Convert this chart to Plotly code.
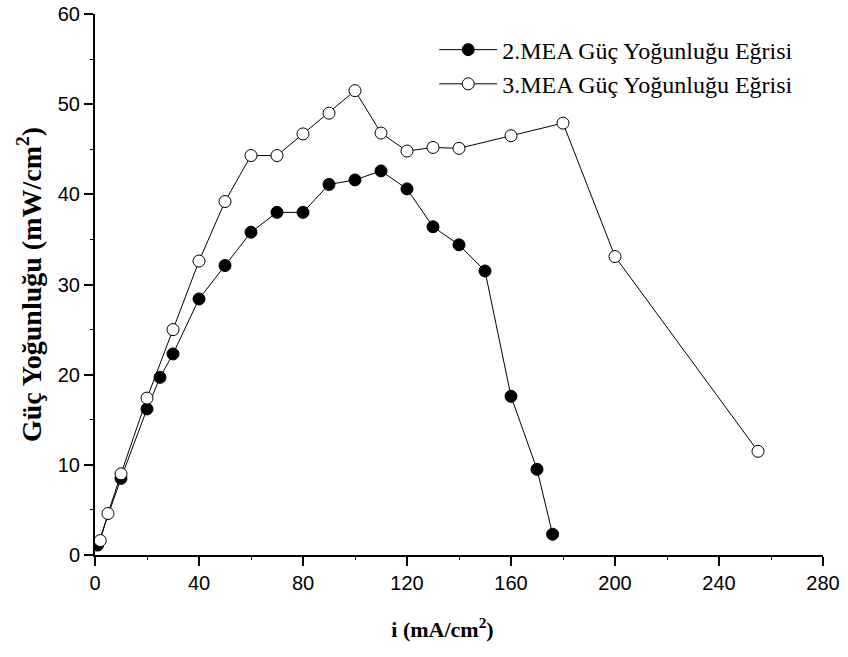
import plotly.graph_objects as go

# Series 2.MEA (filled markers)
x_mea2 = [1, 10, 20, 25, 30, 40, 50, 60, 70, 80, 90, 100, 110, 120, 130, 140, 150, 160, 170, 176]
y_mea2 = [1.1, 8.5, 16.2, 19.7, 22.3, 28.4, 32.1, 35.8, 38.0, 38.0, 41.1, 41.6, 42.6, 40.6, 36.4, 34.4, 31.5, 17.6, 9.5, 2.3]

# Series 3.MEA (open markers)
x_mea3 = [2, 5, 10, 20, 30, 40, 50, 60, 70, 80, 90, 100, 110, 120, 130, 140, 160, 180, 200, 255]
y_mea3 = [1.6, 4.6, 9.0, 17.4, 25.0, 32.6, 39.2, 44.3, 44.3, 46.7, 49.0, 51.5, 46.8, 44.8, 45.2, 45.1, 46.5, 47.9, 33.1, 11.5]

name2 = "2.MEA Güç Yoğunluğu Eğrisi"
name3 = "3.MEA Güç Yoğunluğu Eğrisi"

x_ticks = [0, 40, 80, 120, 160, 200, 240, 280]
y_ticks = [0, 10, 20, 30, 40, 50, 60]

fig = go.Figure()
fig.add_trace(go.Scatter(
    x=x_mea2, y=y_mea2, name=name2, mode="lines+markers",
    line=dict(color="black", width=1),
    marker=dict(symbol="circle", size=12, color="black", line=dict(color="black", width=1)),
))
fig.add_trace(go.Scatter(
    x=x_mea3, y=y_mea3, name=name3, mode="lines+markers",
    line=dict(color="black", width=1),
    marker=dict(symbol="circle", size=12, color="white", line=dict(color="black", width=1)),
))

axis_common = dict(
    showgrid=False, zeroline=False, showline=True, linecolor="black", linewidth=2,
    ticks="outside", ticklen=9, tickwidth=2, tickcolor="black",
    tickfont=dict(family="Liberation Sans, Arial", size=20, color="black"),
    automargin=False, ticklabeloverflow="allow",
)

fig.update_layout(
    width=848, height=657,
    margin=dict(l=95, r=25, t=14, b=102),
    paper_bgcolor="white", plot_bgcolor="white",
    showlegend=True,
    legend=dict(
        x=0.466, y=0.975, xanchor="left", yanchor="top",
        font=dict(family="Liberation Serif, Times New Roman", size=24, color="black"),
        bgcolor="rgba(0,0,0,0)", itemwidth=58, tracegroupgap=0,
    ),
    xaxis=dict(
        range=[0, 280], tickvals=x_ticks,
        minor=dict(dtick=20, ticks="outside", ticklen=3, tickcolor="black", tickwidth=1),
        title=dict(text="<b>i (mA/cm<sup>2</sup>)</b>" + "&nbsp;" * 6,
                   font=dict(family="Liberation Serif, Times New Roman", size=22, color="black"),
                   standoff=29),
        **axis_common,
    ),
    yaxis=dict(
        range=[0, 60], tickvals=y_ticks,
        minor=dict(dtick=5, ticks="outside", ticklen=3, tickcolor="black", tickwidth=1),
        title=dict(text="<b>Güç Yoğunluğu (mW/cm<sup>2</sup>)</b>",
                   font=dict(family="Liberation Serif, Times New Roman", size=28, color="black"),
                   standoff=8),
        **axis_common,
    ),
)

fig.write_html("out.html", config={"displayModeBar": False},
               post_script="document.body.style.margin='0';")
